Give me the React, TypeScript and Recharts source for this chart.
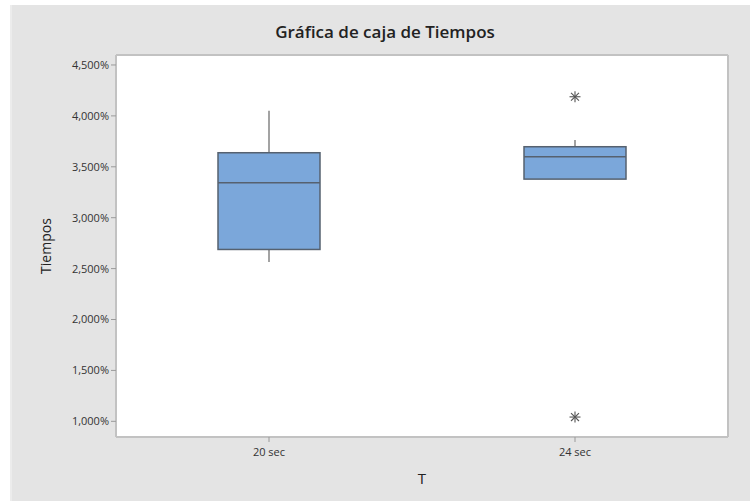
import {
  ComposedChart,
  Bar,
  Scatter,
  XAxis,
  YAxis,
  CartesianGrid,
} from "recharts";

// five-number summary per group, plus outliers
const grupos = ["20 sec", "24 sec"];
const minimo = [2566, 3379];
const q1 = [2688, 3379];
const mediana = [3343, 3599];
const q3 = [3638, 3697];
const maximo = [4050, 3763];
const atipicoAlto = [null, 4188];
const atipicoBajo = [null, 1042];

const yTicks = [1000, 1500, 2000, 2500, 3000, 3500, 4000, 4500];

const data = grupos.map((g, i) => ({
  grupo: g,
  caja: [q1[i], q3[i]],
  min: minimo[i],
  q1: q1[i],
  med: mediana[i],
  q3: q3[i],
  max: maximo[i],
  alto: atipicoAlto[i],
  bajo: atipicoBajo[i],
}));

const fmt = (v: number) =>
  v.toLocaleString("en-US", { maximumFractionDigits: 0 }) + "%";

// box drawn from the bar rect; median and whiskers use the same px/unit
const BoxShape = (props: any) => {
  const { x, y, width, height, payload } = props;
  const k = height / (payload.q3 - payload.q1);
  const cx = x + width / 2;
  const yMed = y + (payload.q3 - payload.med) * k;
  const yMax = y - (payload.max - payload.q3) * k;
  const yMin = y + height + (payload.q1 - payload.min) * k;
  return (
    <g>
      <line x1={cx} x2={cx} y1={yMax} y2={y} stroke="#8c8c8c" strokeWidth={1.6} />
      <line x1={cx} x2={cx} y1={y + height} y2={yMin} stroke="#8c8c8c" strokeWidth={1.6} />
      <rect
        x={x}
        y={y}
        width={width}
        height={height}
        fill="#7ba7da"
        stroke="#56616f"
        strokeWidth={1.5}
      />
      <line x1={x} x2={x + width} y1={yMed} y2={yMed} stroke="#56616f" strokeWidth={1.5} />
    </g>
  );
};

const Star = (props: any) => {
  const { cx, cy, payload, campo } = props;
  if (!payload || payload[campo] == null || cy == null || isNaN(cy)) return <g />;
  const r = 5.5;
  const d = r * 0.72;
  return (
    <g stroke="#555" strokeWidth={1.1}>
      <line x1={cx - r} x2={cx + r} y1={cy} y2={cy} />
      <line x1={cx} x2={cx} y1={cy - r} y2={cy + r} />
      <line x1={cx - d} x2={cx + d} y1={cy - d} y2={cy + d} />
      <line x1={cx - d} x2={cx + d} y1={cy + d} y2={cy - d} />
    </g>
  );
};

export default function App() {
  return (
    <div
      style={{
        position: "absolute",
        left: 0,
        top: 0,
        width: 750,
        height: 501,
        background: "#fff",
        fontFamily: "'Open Sans', sans-serif",
      }}
    >
      <div
        style={{
          position: "absolute",
          left: 10,
          top: 5,
          width: 740,
          height: 496,
          background: "#e4e4e4",
          borderLeft: "2px solid #ececec",
          boxSizing: "border-box",
        }}
      />
      <div
        style={{
          position: "absolute",
          left: 0,
          top: 20,
          width: 750,
          textAlign: "center",
          fontSize: 17,
          fontWeight: 600,
          color: "#222",
          paddingLeft: 20,
          boxSizing: "border-box",
        }}
      >
        Gráfica de caja de Tiempos
      </div>
      <div style={{ position: "absolute", left: 0, top: 0 }}>
        <ComposedChart
          width={750}
          height={501}
          data={data}
          margin={{ top: 55, right: 22, bottom: 34, left: 0 }}
        >
          <CartesianGrid
            fill="#fff"
            stroke="#c2c2c2"
            strokeWidth={2}
            horizontalCoordinatesGenerator={({ offset }: any) => [
              offset.top,
              offset.top + offset.height,
            ]}
            verticalCoordinatesGenerator={({ offset }: any) => [
              offset.left,
              offset.left + offset.width,
            ]}
          />
          <XAxis
            dataKey="grupo"
            height={30}
            axisLine={false}
            tickLine={{ stroke: "#9a9a9a" }}
            tickSize={5}
            tickMargin={6}
            tick={{ fontSize: 11, fill: "#333" }}
            label={{
              value: "T",
              position: "bottom",
              offset: 6,
              style: { fontSize: 15, fill: "#222" },
            }}
          />
          <YAxis
            type="number"
            domain={[846, 4598]}
            ticks={yTicks}
            tickFormatter={fmt}
            axisLine={false}
            tickLine={{ stroke: "#9a9a9a" }}
            tickSize={5}
            width={116}
            tick={{ fontSize: 11, fill: "#333" }}
            label={{
              value: "Tiempos",
              angle: -90,
              position: "insideLeft",
              offset: 46,
              style: { fontSize: 14, fill: "#222", textAnchor: "middle" },
            }}
          />
          <Bar
            dataKey="caja"
            barSize={102}
            shape={<BoxShape />}
            isAnimationActive={false}
          />
          <Scatter dataKey="alto" shape={<Star campo="alto" />} isAnimationActive={false} />
          <Scatter dataKey="bajo" shape={<Star campo="bajo" />} isAnimationActive={false} />
        </ComposedChart>
      </div>
    </div>
  );
}
